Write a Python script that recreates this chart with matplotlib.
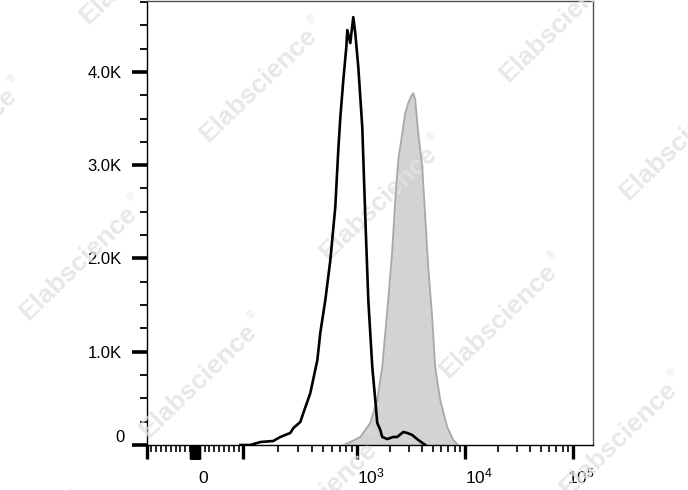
import numpy as np
import matplotlib
matplotlib.use("Agg")
import matplotlib.pyplot as plt
from matplotlib.ticker import FixedLocator, NullFormatter
import matplotlib.transforms as mtransforms

# ---------------- data ----------------
black_x = [94, 115, 141, 183, 211, 258, 275, 316, 336, 387, 446, 473, 524, 580,
           641, 681, 710, 754, 801, 817, 868, 922, 960, 1022, 1112, 1186, 1265,
           1377, 1468, 1531, 1634, 1703, 1897, 2154, 2344, 2668, 2904, 3230, 3673, 4266]
black_y = [0, 0, 32, 43, 86, 129, 182, 247, 343, 557, 911, 1200, 1554, 1983,
           2551, 3162, 3516, 3912, 4266, 4448, 4309, 4587, 4416, 4051, 3408, 2444, 1554,
           836, 482, 236, 161, 86, 64, 86, 86, 139, 129, 107, 54, 0]

gray_x = [754, 868, 1066, 1186, 1318, 1531, 1703, 1816, 1935, 2109, 2249, 2398,
          2613, 2781, 2966, 3162, 3301, 3446, 3673, 4000, 4266, 4545, 4945, 5272,
          5870, 6808, 7745, 8610]
gray_y = [0, 32, 86, 161, 236, 482, 836, 1200, 1554, 2090, 2626, 3055,
          3344, 3558, 3666, 3741, 3773, 3698, 3344, 2980, 2444, 1908, 1372, 836,
          482, 193, 54, 0]

y_ticks = [1000, 2000, 3000, 4000]
y_labels = ["1.0K", "2.0K", "3.0K", "4.0K"]
x_label_vals = [0, 1000, 10000, 100000]
x_label_txt = ["0", r"$\mathregular{10^3}$", r"$\mathregular{10^4}$", r"$\mathregular{10^5}$"]

# ---------------- scale ----------------
LIN = 48.5
DEC_U = [2, 3, 4, 5, 6]
DEC_P = [0, 114, 222, 330, 438]

def fwd(x):
    x = np.asarray(x, dtype=float)
    a = np.abs(x)
    lg = np.log10(np.maximum(a, 100.0))
    return np.where(a <= 100, x / 100.0 * LIN, np.sign(x) * (LIN + np.interp(lg, DEC_U, DEC_P)))

def inv(p):
    p = np.asarray(p, dtype=float)
    a = np.abs(p)
    return np.where(a <= LIN, p / LIN * 100.0,
                    np.sign(p) * 10 ** np.interp(np.maximum(a - LIN, 0), DEC_P, DEC_U))

plt.rcParams['font.family'] = ['Liberation Sans', 'DejaVu Sans']
plt.rcParams['mathtext.fontset'] = 'custom'
plt.rcParams['mathtext.rm'] = 'Liberation Sans'
plt.rcParams['mathtext.it'] = 'Liberation Sans:italic'
plt.rcParams['mathtext.bf'] = 'Liberation Sans:bold'

W, H = 688, 490
fig = plt.figure(figsize=(W / 100, H / 100), dpi=100)
L, R, T, B = 146.5, 593, 1, 445
rect = [L / W, 1 - B / H, (R - L) / W, (B - T) / H]
ax = fig.add_axes(rect)
ax.set_zorder(0)
top = fig.add_axes(rect)
top.set_zorder(20)
top.patch.set_visible(False)
top.axis('off')
for a in (ax, top):
    a.set_xscale('function', functions=(fwd, inv))
    a.set_xlim(-100, 1.53e5)
    a.set_ylim(0, 4760)

# filled histogram under the watermark, outlines above it
ax.fill_between(gray_x, gray_y, 0, facecolor='#d3d3d3', edgecolor='none', zorder=2)
top.plot(gray_x, gray_y, color='#a8a8a8', linewidth=1.3, zorder=2)
top.plot(black_x, black_y, color='black', linewidth=1.9, zorder=3)

# x ticks
major_x = [-100] + list(range(-9, 10)) + [100, 1000, 10000, 100000]
minor_x = [s * v for s in (-1, 1) for v in range(10, 100, 10)]
for d in (2, 3, 4):
    minor_x += [k * 10 ** d for k in range(2, 10)]
ax.xaxis.set_major_locator(FixedLocator(major_x))
ax.xaxis.set_minor_locator(FixedLocator(minor_x))
ax.xaxis.set_major_formatter(NullFormatter())
ax.xaxis.set_minor_formatter(NullFormatter())
ax.tick_params(axis='x', which='major', direction='out', length=10, width=2.4, color='black')
ax.tick_params(axis='x', which='minor', direction='out', length=5, width=1.2, color='black')

# y ticks
ax.yaxis.set_major_locator(FixedLocator([0] + y_ticks))
ax.set_yticklabels([""] + y_labels)
ax.yaxis.set_minor_locator(FixedLocator([v for v in range(250, 4760, 250) if v % 1000 != 0]))
ax.tick_params(axis='y', which='major', direction='out', length=11, width=2.6,
               labelsize=12, pad=7, color='black')
ax.tick_params(axis='y', which='minor', direction='out', length=5, width=1.3, color='black')

ax.text(-0.048, 0.0, "0", transform=ax.transAxes, fontsize=12, ha='right', va='bottom')

for s in ('left', 'bottom'):
    ax.spines[s].set_color('black')
    ax.spines[s].set_linewidth(1.0)
for s in ('top', 'right'):
    ax.spines[s].set_color('#505050')
    ax.spines[s].set_linewidth(1.0)

# x labels
offsets = [3.5, 0, 0, -6]
blend = mtransforms.blended_transform_factory(ax.transData, ax.transAxes)
for v, t, o in zip(x_label_vals, x_label_txt, offsets):
    tr = mtransforms.offset_copy(blend, fig=fig, x=o, y=-38, units='dots')
    ax.text(v, 0, t, transform=tr, fontsize=12.5, ha='left', va='baseline')

# watermarks
ang = 44.0
base = np.array([258.0, 85.0])
v1 = np.array([120.0, 118.0])
v2 = np.array([180.0, -178.0])
cth, sth = np.cos(np.radians(ang)), np.sin(np.radians(ang))
for i in range(-3, 5):
    for j in range(-3, 4):
        cx, cy = base + i * v1 + j * v2
        if -120 < cx < W + 120 and -120 < cy < H + 120:
            fx, fy = cx / W, 1 - cy / H
            fig.text(fx, fy, "Elabscience", fontsize=19, fontweight='bold',
                     color='#e2e2e2', alpha=0.8, rotation=ang,
                     ha='center', va='center', rotation_mode='anchor', zorder=10)
            ex = cx + 84 * cth - 10 * sth
            ey = cy - 84 * sth - 10 * cth
            fig.text(ex / W, 1 - ey / H, "\u00ae", fontsize=8, color='#e2e2e2',
                     alpha=0.8, rotation=ang, ha='center', va='center',
                     rotation_mode='anchor', zorder=10)

fig.savefig("out.png", dpi=100)
